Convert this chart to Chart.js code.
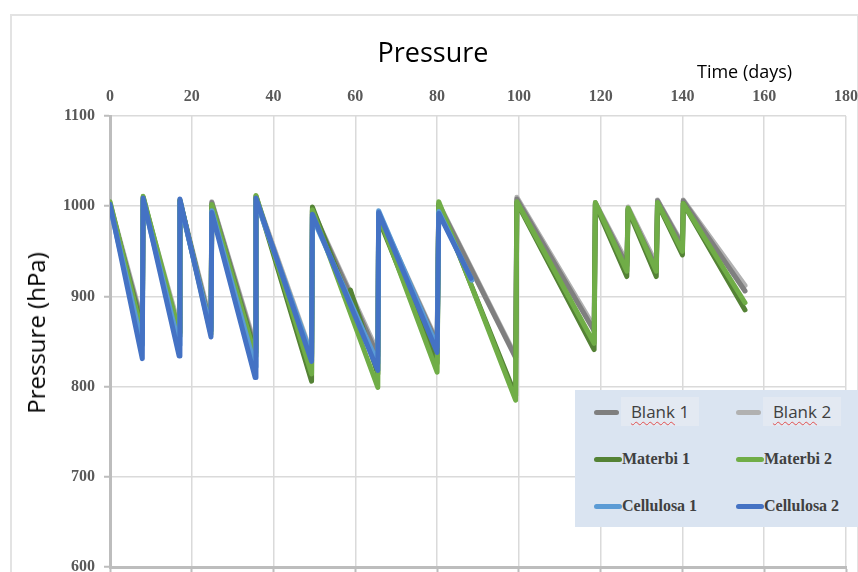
<!DOCTYPE html>
<html>
<head>
<meta charset="utf-8">
<script src="https://cdn.jsdelivr.net/npm/chart.js@4/dist/chart.umd.min.js"></script>
<style>
  html, body { margin: 0; padding: 0; background: #fff; }
  .wrap { position: relative; width: 858px; height: 572px; overflow: hidden; }
  .frame { position: absolute; left: 10px; top: 14px; width: 845px; height: 570px;
    border: 2px solid #e3e3e3; border-bottom: none; }
  canvas { position: absolute; left: 0; top: 0; }
  .title { position: absolute; left: 0; width: 866px; top: 38px; text-align: center;
    font: 27px/27px "Open Sans", sans-serif; color: #000; }
  .xtitle { position: absolute; left: 697px; top: 62px; font: 18px/18px "Open Sans", sans-serif; color: #000; }
  .ytitle { position: absolute; left: 36px; top: 333px; transform: translate(-50%, -50%) rotate(-90deg);
    white-space: nowrap; font: 24px/24px "Open Sans", sans-serif; color: #000; }
  .legend { position: absolute; left: 575px; top: 390px; width: 283px; height: 137px; background: #dae4f1; }
  .item { position: absolute; height: 30px; }
  .swatch { position: absolute; top: 13px; height: 5px; border-radius: 3px; }
  .sans { position: absolute; top: 0; height: 29px; background: #e3e9f2;
    font: 17px/29px "Open Sans", sans-serif; color: #404040; text-align: center; }
  .sans span { text-decoration: underline wavy #e05050 1px; text-underline-offset: 3px; }
  .serif { position: absolute; top: 4px; font: bold 16px/22px "Liberation Serif", serif; color: #404040; white-space: nowrap; }
</style>
</head>
<body>
<div class="wrap">
  <div class="frame"></div>
  <canvas id="chart" width="858" height="572"></canvas>
  <div class="title">Pressure</div>
  <div class="xtitle">Time (days)</div>
  <div class="ytitle">Pressure (hPa)</div>
  <div class="legend" id="legend"></div>
</div>
<script>
// day, hPa (each jump = re-aeration of the vessel)
const blank1 = [[0,1001],[7.9,868],[8.1,1006],[16.9,860],[17.1,1005],[24.7,866],[24.9,1004],[35.5,842],[35.7,1008],[49.3,832],[49.5,995],[65.5,834],[65.7,990],[80,848],[80.4,1002],[99.2,832],[99.5,1008],[118.4,862],[118.7,1003],[126.4,934],[126.7,997],[133.6,932],[133.9,1006],[140,956],[140.2,1006],[155.3,906]];
const blank2 = [[0,1003],[7.9,872],[8.1,1008],[16.9,866],[17.1,1006],[24.7,870],[24.9,1005],[35.5,846],[35.7,1010],[49.3,836],[49.5,996],[65.5,838],[65.7,992],[80,850],[80.4,1003],[99.2,834],[99.5,1010],[118.4,866],[118.7,1004],[126.4,938],[126.7,999],[133.6,936],[133.9,1007],[140,958],[140.2,1007],[155.3,912]];
const materbi1 = [[0,1003],[7.9,862],[8.1,1010],[16.9,856],[17.1,1006],[24.7,862],[24.9,1001],[35.5,838],[35.7,1011],[49.3,806],[49.5,999],[58.6,893],[58.8,907],[65.5,814],[65.7,986],[80,826],[80.4,1002],[99.2,790],[99.5,1004],[118.4,841],[118.7,1002],[126.4,922],[126.7,996],[133.6,922],[133.9,1003],[140,946],[140.2,1003],[155.3,885]];
const materbi2 = [[0,1005],[7.9,858],[8.1,1011],[16.9,860],[17.1,1007],[24.7,858],[24.9,1002],[35.5,834],[35.7,1012],[49.3,814],[49.5,996],[65.5,799],[65.7,990],[80,816],[80.4,1005],[99.2,785],[99.5,1005],[118.4,848],[118.7,1004],[126.4,928],[126.7,998],[133.6,928],[133.9,1004],[140,950],[140.2,1003],[155.3,893]];
const cellulosa1 = [[0,999],[7.9,846],[8.1,1006],[16.9,846],[17.1,1004],[24.7,862],[24.9,995],[35.5,822],[35.7,1006],[49.3,834],[49.5,988],[65.5,826],[65.7,995],[80,844],[80.4,994],[88.5,918]];
const cellulosa2 = [[0,1002],[7.9,831],[8.1,1009],[16.9,834],[17.1,1008],[24.7,855],[24.9,993],[35.5,810],[35.7,1009],[49.3,828],[49.5,991],[65.5,818],[65.7,993],[80,838],[80.4,992],[88.3,920]];

const seriesNames = ['Blank 1', 'Blank 2', 'Materbi 1', 'Materbi 2', 'Cellulosa 1', 'Cellulosa 2'];
const seriesData = [blank1, blank2, materbi1, materbi2, cellulosa1, cellulosa2];
const seriesColors = ['#7f7f7f', '#b1b1b1', '#548235', '#70ad47', '#5b9bd5', '#4472c4'];
const drawOrder = [4, 5, 3, 2, 1, 0]; // blue on top, grey at the back

const xTicks = [0, 20, 40, 60, 80, 100, 120, 140, 160, 180];
const yTicks = [600, 700, 800, 900, 1000, 1100];

const tickFont = { family: 'Liberation Serif', weight: 'bold', size: 16 };

function buildDatasets() {
    return seriesNames.map((name, i) => ({
        label: name,
        data: seriesData[i].map(p => ({ x: p[0], y: p[1] })),
        borderColor: seriesColors[i],
        backgroundColor: seriesColors[i],
        borderWidth: 5,
        borderJoinStyle: 'round',
        borderCapStyle: 'round',
        showLine: true,
        pointRadius: 0,
        tension: 0,
        order: drawOrder[i]
    }));
}

function buildLegend() {
    const legend = document.getElementById('legend');
    const cols = [19, 161];
    seriesNames.forEach((name, i) => {
        const col = i % 2, row = Math.floor(i / 2);
        const item = document.createElement('div');
        item.className = 'item';
        item.style.left = cols[col] + 'px';
        item.style.top = (7 + row * 47) + 'px';
        const sw = document.createElement('div');
        sw.className = 'swatch';
        sw.style.left = '0px';
        sw.style.width = (row === 0 ? 25 : 28) + 'px';
        sw.style.background = seriesColors[i];
        item.appendChild(sw);
        if (row === 0) {
            const box = document.createElement('div');
            box.className = 'sans';
            box.style.left = '27px';
            box.style.width = '78px';
            const parts = name.split(' ');
            box.innerHTML = '<span>' + parts[0] + '</span> ' + parts[1];
            item.appendChild(box);
        } else {
            const txt = document.createElement('div');
            txt.className = 'serif';
            txt.style.left = '28px';
            txt.textContent = name;
            item.appendChild(txt);
        }
        legend.appendChild(item);
    });
}

const noPad = s => { s.paddingLeft = 0; s.paddingRight = 0; s.paddingTop = 0; s.paddingBottom = 0; };

const config = {
    type: 'scatter',
    data: { datasets: buildDatasets() },
    options: {
        responsive: false,
        animation: false,
        layout: { padding: { left: 0, top: 0, right: 12, bottom: 0 } },
        plugins: { legend: { display: false }, title: { display: false }, tooltip: { enabled: false } },
        scales: {
            x: {
                type: 'linear', position: 'top', min: 0, max: 180,
                afterBuildTicks: s => { s.ticks = xTicks.map(v => ({ value: v })); },
                ticks: { font: tickFont, color: '#595959', padding: 10 },
                grid: { color: '#dadada', lineWidth: 1.5, drawTicks: false },
                border: { display: false },
                afterFit: s => { s.height = 116; noPad(s); }
            },
            xb: {
                type: 'linear', position: 'bottom', min: 0, max: 180, axis: 'x',
                afterBuildTicks: s => { s.ticks = xTicks.map(v => ({ value: v })); },
                ticks: { display: false },
                grid: { drawOnChartArea: false, tickLength: 5, tickColor: '#bdbdbd', tickWidth: 2, color: '#bdbdbd' },
                border: { color: '#bdbdbd', width: 3 },
                afterFit: s => { s.height = 5; noPad(s); }
            },
            y: {
                type: 'linear', position: 'left', min: 600, max: 1100,
                afterBuildTicks: s => { s.ticks = yTicks.map(v => ({ value: v })); },
                ticks: { font: tickFont, color: '#595959', padding: 9, callback: v => String(v) },
                grid: { color: '#dadada', lineWidth: 1.5, tickLength: 6, tickColor: '#bdbdbd', tickWidth: 2 },
                border: { color: '#bdbdbd', width: 3 },
                afterFit: s => { s.width = 110; noPad(s); }
            }
        }
    }
};

buildLegend();
new Chart(document.getElementById('chart'), config);
</script>
</body>
</html>
